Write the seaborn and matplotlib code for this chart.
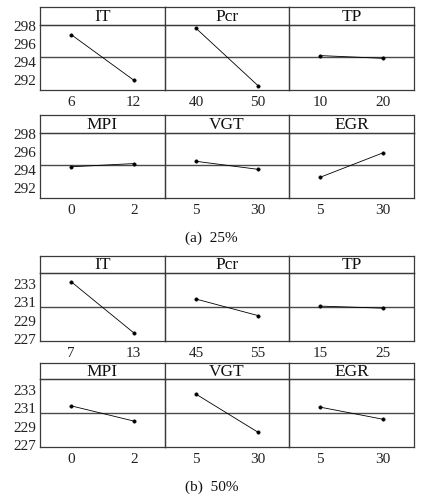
import numpy as np
import pandas as pd
import matplotlib
matplotlib.use("Agg")
import matplotlib.pyplot as plt
import seaborn as sns

sns.set_theme(style="white")
plt.rcParams['font.family'] = ['Liberation Serif', 'DejaVu Serif']

factors = ["IT", "Pcr", "TP", "MPI", "VGT", "EGR"]

# (a) 25%
levels_a = [["6", "12"], ["40", "50"], ["10", "20"], ["0", "2"], ["5", "30"], ["5", "30"]]
means_a = [[297.0, 292.0], [297.7, 291.4], [294.7, 294.4],
           [294.35, 294.7], [294.95, 294.07], [293.2, 295.87]]
yticks_a = [292, 294, 296, 298]

# (b) 50%
levels_b = [["7", "13"], ["45", "55"], ["15", "25"], ["0", "2"], ["5", "30"], ["5", "30"]]
means_b = [[233.22, 227.66], [231.34, 229.54], [230.57, 230.35],
           [231.25, 229.6], [232.53, 228.38], [231.11, 229.8]]
yticks_b = [227, 229, 231, 233]

captions = ["(a)  25%", "(b)  50%"]

W, H = 423, 497
fig = plt.figure(figsize=(W / 100, H / 100), dpi=100)

def px_axes(x0, y_top, x1, y_bot):
    return fig.add_axes([x0 / W, 1 - y_bot / H, (x1 - x0) / W, (y_bot - y_top) / H])

cols = [(40, 165), (165, 289), (289, 414)]
groups = [
    dict(levels=levels_a, means=means_a, yticks=yticks_a, ylim=(290.92, 298.06),
         rows=[(7, 25, 90), (115, 133, 198)], cap_y=238),
    dict(levels=levels_b, means=means_b, yticks=yticks_b, ylim=(226.77, 234.18),
         rows=[(256, 273, 341), (363, 379, 447)], cap_y=487),
]
spine_col = "#3a3a3a"
line_col = "#4a4a4a"

for gi, g in enumerate(groups):
    grand = np.mean(np.array(g["means"]))
    for k in range(6):
        r, c = divmod(k, 3)
        top, hb, bot = g["rows"][r]
        x0, x1 = cols[c]
        # header strip
        hax = px_axes(x0, top, x1, hb)
        hax.set_xticks([]); hax.set_yticks([])
        for s in hax.spines.values():
            s.set_color(spine_col); s.set_linewidth(0.9)
        hax.text(0.5, 0.45, factors[k], ha="center", va="center", fontsize=12.5,
                 transform=hax.transAxes, color="#111111")
        # data panel
        ax = px_axes(x0, hb, x1, bot)
        ax.patch.set_alpha(0)
        df = pd.DataFrame({"level": g["levels"][k], "mean": g["means"][k]})
        sns.pointplot(data=df, x="level", y="mean", ax=ax, color="black",
                      markersize=2.4, linewidth=0.6, errorbar=None)
        ax.axhline(grand, color=line_col, lw=1.0, zorder=0)
        ax.set_ylim(*g["ylim"])
        ax.set_xlim(-0.5, 1.5)
        ax.set_xlabel(""); ax.set_ylabel("")
        for s in ['left', 'right', 'bottom', 'top']:
            ax.spines[s].set_color(spine_col); ax.spines[s].set_linewidth(0.9)
        ax.tick_params(axis="x", length=0, pad=4, labelsize=11, colors="#222222")
        if c == 0:
            ax.set_yticks(g["yticks"])
            ax.tick_params(axis="y", length=0, pad=3, labelsize=11, colors="#222222")
        else:
            ax.set_yticks([])
    fig.text(0.5, 1 - g["cap_y"] / H, captions[gi], ha="center", va="center", fontsize=11,
             color="#111111")

fig.savefig("out.png", dpi=100)
